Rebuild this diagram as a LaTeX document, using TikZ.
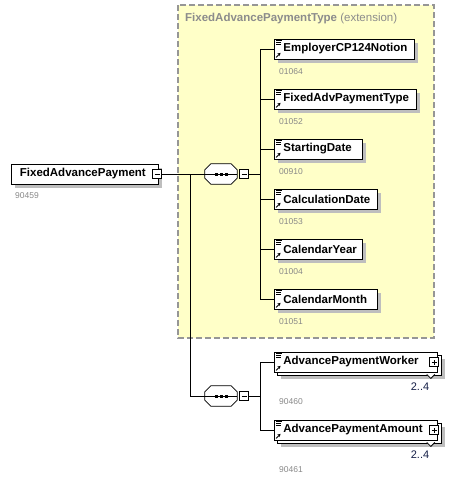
\documentclass[tikz,border=0pt]{standalone}
\usepackage{fontspec}
\setmainfont{Liberation Sans}
\usetikzlibrary{shadows,arrows.meta}
\definecolor{ybg}{RGB}{255,255,200}
\definecolor{yborder}{RGB}{150,150,150}
\definecolor{numgrey}{RGB}{136,136,136}
\definecolor{titlegrey}{RGB}{140,140,140}
\definecolor{shadowgrey}{RGB}{190,190,190}
\definecolor{multblue}{RGB}{20,30,70}
\tikzset{
  shd/.style={drop shadow={shadow xshift=4pt, shadow yshift=-4pt, fill=shadowgrey, opacity=1}},
  elem/.style={draw=black, line width=0.8pt, fill=white, anchor=west, minimum height=20pt,
    inner xsep=0pt, inner ysep=0pt, text width=#1, align=left,
    font=\bfseries\fontsize{11.5}{13}\selectfont},
  backbox/.style={draw=black, line width=0.8pt, fill=white, anchor=west, minimum height=20pt,
    minimum width=#1, inner sep=0pt},
  num/.style={anchor=west, inner sep=0pt, text=numgrey, font=\fontsize{8.5}{10}\selectfont},
  mult/.style={anchor=center, inner sep=0pt, text=multblue, font=\fontsize{11}{12}\selectfont},
  seqbox/.style={rectangle, draw=none, minimum width=32pt, minimum height=20pt, inner sep=0pt},
  tog/.style={draw=black, line width=0.7pt, fill=white, minimum size=9.5pt, inner sep=0pt},
  conn/.style={line width=0.8pt},
}
\newcommand\xicons[1]{%
  \draw[line width=0.6pt] ([shift={(2,2)}]#1.north west) -- ++(6,0);
  \draw[line width=0.6pt] ([shift={(2,4)}]#1.north west) -- ++(5,0);
  \draw[line width=0.6pt] ([shift={(2,6)}]#1.north west) -- ++(5,0);
  \draw[line width=0.9pt, -{Stealth[length=3pt,width=3.5pt]}] ([shift={(2,-2)}]#1.south west) -- ++(4.5,-4.5);
}
\newcommand\xminus[1]{\draw[line width=0.7pt] ([xshift=-2.5pt]#1.center) -- ([xshift=2.5pt]#1.center);}
\newcommand\xplus[1]{\draw[line width=0.7pt] ([xshift=-2.5pt]#1.center) -- ([xshift=2.5pt]#1.center);
  \draw[line width=0.7pt] ([yshift=-2.5pt]#1.center) -- ([yshift=2.5pt]#1.center);}
\newcommand\octpath[1]{([xshift=6pt]#1.north west) -- ([xshift=-6pt]#1.north east) -- ([yshift=-6pt]#1.north east)
  -- ([yshift=6pt]#1.south east) -- ([xshift=-6pt]#1.south east) -- ([xshift=6pt]#1.south west)
  -- ([yshift=6pt]#1.south west) -- ([yshift=-6pt]#1.north west) -- cycle}
\newcommand\xseq[1]{%
  \fill[shadowgrey, shift={(4,4)}] \octpath{#1};
  \draw[line width=0.8pt, fill=white] \octpath{#1};
  \draw[line width=0.8pt] (#1.west) -- (#1.east);
  \foreach \dx in {-5,0,5} \fill ([xshift=\dx pt]#1.center) ++(-1.5,-1.5) rectangle ++(3,3);
}
\begin{document}
\begin{tikzpicture}[x=1pt,y=-1pt]
\useasboundingbox (0,0) rectangle (472,482);
% extension box
\draw[fill=ybg, draw=yborder, line width=1.1pt, dash pattern=on 6pt off 3pt] (178,5) rectangle (434,338);
\node[anchor=west, inner sep=0pt, text=titlegrey, font=\fontsize{11.5}{13}\selectfont] (ttl) at (185,19)
  {\textbf{FixedAdvancePaymentType} (extension)};

% root
\node[elem=147pt, shd] (root) at (11,174) {\hspace*{8.5pt}FixedAdvancePayment};
\node[tog] (m0) at (157,174) {};
\xminus{m0}
\node[num] (n0) at (15,196) {90459};

% sequence 1
\node[seqbox] (s1) at (221,174) {};
\xseq{s1}
\node[tog] (m1) at (244,174) {};
\xminus{m1}
\coordinate (j1) at (190,174);
\coordinate (t1) at (260,174);

% elements
\node[elem=140pt, shd] (e1) at (274,49) {\hspace*{9pt}EmployerCP124Notion};
\node[elem=142pt, shd] (e2) at (274,99) {\hspace*{9pt}FixedAdvPaymentType};
\node[elem=88pt, shd] (e3) at (274,149) {\hspace*{9pt}StartingDate};
\node[elem=103pt, shd] (e4) at (274,199) {\hspace*{9pt}CalculationDate};
\node[elem=88pt, shd] (e5) at (274,249) {\hspace*{9pt}CalendarYear};
\node[elem=103pt, shd] (e6) at (274,299) {\hspace*{9pt}CalendarMonth};
\foreach \e in {e1,e2,e3,e4,e5,e6} {\xicons{\e}}
\node[num] (n1) at (279,72) {01064};
\node[num] (n2) at (279,122) {01052};
\node[num] (n3) at (279,172) {00910};
\node[num] (n4) at (279,222) {01053};
\node[num] (n5) at (279,272) {01004};
\node[num] (n6) at (279,322) {01051};

% sequence 2
\node[seqbox] (s2) at (221,396) {};
\xseq{s2}
\node[tog] (m2) at (244,396) {};
\xminus{m2}
\coordinate (t2) at (260,396);

% multi elements
\node[backbox=164pt, shd] (w1b) at (277,365) {};
\draw[line width=0.8pt, fill=white] ([shift={(-15,-1)}]w1b.south east) -- ++(4,4) -- ++(4,-4);
\node[elem=163pt] (w1) at (274,362) {\hspace*{9pt}AdvancePaymentWorker};
\node[tog] (p1) at (434,362) {};
\xplus{p1}
\node[mult] (r1) at (420,387) {2..4};
\node[num] (n7) at (279,402) {90460};

\node[backbox=164pt, shd] (w2b) at (277,433) {};
\draw[line width=0.8pt, fill=white] ([shift={(-15,-1)}]w2b.south east) -- ++(4,4) -- ++(4,-4);
\node[elem=163pt] (w2) at (274,430) {\hspace*{9pt}AdvancePaymentAmount};
\node[tog] (p2) at (434,430) {};
\xplus{p2}
\node[mult] (r2) at (420,455) {2..4};
\node[num] (n8) at (279,470) {90461};
\foreach \e in {w1,w2} {\xicons{\e}}

% connectors
\draw[conn] (m0.east) -- (s1.west);
\draw[conn] (j1) |- (s2.west);
\draw[conn] (m1.east) -- (t1);
\foreach \e in {e1,e2,e3,e4,e5,e6} {\draw[conn] (t1) |- (\e.west);}
\draw[conn] (m2.east) -- (t2);
\foreach \e in {w1,w2} {\draw[conn] (t2) |- (\e.west);}
\end{tikzpicture}
\end{document}
